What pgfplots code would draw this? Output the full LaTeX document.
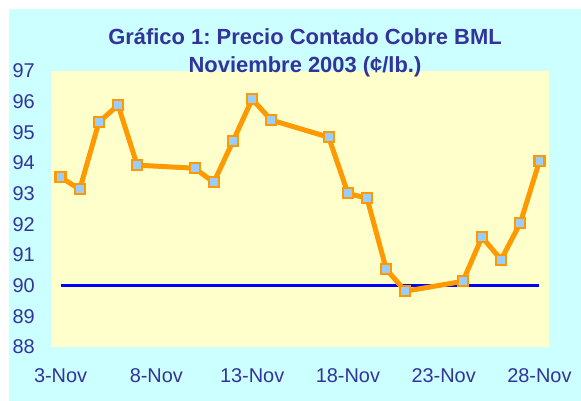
\documentclass[border=0pt]{standalone}
\usepackage{pgfplots}
\pgfplotsset{compat=1.18}
\usepackage{fontspec}
\setmainfont{Liberation Sans}
\frenchspacing
\definecolor{bgcyan}{HTML}{CCFFFF}
\definecolor{plotyellow}{HTML}{FFFFCC}
\definecolor{copper}{HTML}{FF9900}
\definecolor{markfill}{HTML}{99CCFF}
\definecolor{textblue}{HTML}{333399}
\definecolor{refblue}{HTML}{0000FF}
\begin{document}
\begin{tikzpicture}
\fill[white] (-51bp,-54bp) rectangle (530bp,347bp);
\fill[bgcyan] (-42bp,-54bp) rectangle (530bp,338bp);
\begin{axis}[
    at={(0,0)}, anchor=south west,
    width=498bp, height=276bp, scale only axis,
    xmin=2.5, xmax=28.5,
    ymin=88, ymax=97,
    xtick={3,8,13,18,23,28},
    xticklabels={3-Nov,8-Nov,13-Nov,18-Nov,23-Nov,28-Nov},
    ytick={88,89,...,97},
    major tick length=0pt,
    axis line style={draw=none},
    axis background/.style={fill=plotyellow},
    tick label style={font=\fontsize{20}{22}\selectfont, text=textblue, inner sep=0pt},
    yticklabel style={anchor=east, xshift=-16bp},
    xticklabel style={anchor=north, yshift=-21bp},
    /pgf/number format/assume math mode=true,
    clip=false,
]
\addplot[refblue, line width=2.7bp] coordinates {(3,90) (28,90)};
\addplot[copper, line width=5bp, mark=square*,
    mark size=5bp, mark options={fill=markfill, draw=copper, line width=2.2bp}]
coordinates {
(3,93.54) (4,93.14) (5,95.33) (6,95.89) (7,93.93)
(10,93.83) (11,93.37) (12,94.71) (13,96.08) (14,95.40)
(17,94.84) (18,93.01) (19,92.85) (20,90.54) (21,89.82)
(24,90.14) (25,91.58) (26,90.85) (27,92.04) (28,94.06)
};
\end{axis}
\node[anchor=base, font=\bfseries\fontsize{22}{26}\selectfont, text=textblue]
  at (254bp,302bp) {Gráfico 1: Precio Contado Cobre BML};
\node[anchor=base, font=\bfseries\fontsize{22}{26}\selectfont, text=textblue]
  at (254bp,274bp) {Noviembre 2003 (¢/lb.)};
\end{tikzpicture}
\end{document}
